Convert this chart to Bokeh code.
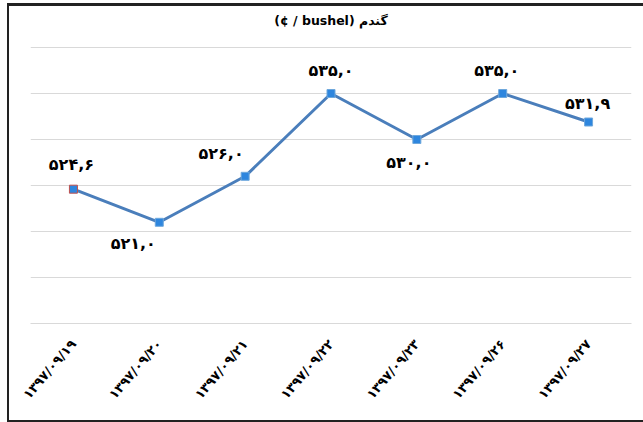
from bokeh.plotting import figure
from bokeh.models import ColumnDataSource, FactorRange, Range1d, FixedTicker
from bokeh.core.properties import value
from bokeh.embed import file_html
from bokeh.resources import INLINE

# ---- data ----
dates = ["۱۳۹۷/۰۹/۱۹", "۱۳۹۷/۰۹/۲۰", "۱۳۹۷/۰۹/۲۱", "۱۳۹۷/۰۹/۲۲",
         "۱۳۹۷/۰۹/۲۳", "۱۳۹۷/۰۹/۲۶", "۱۳۹۷/۰۹/۲۷"]
prices = [524.6, 521.0, 526.0, 535.0, 530.0, 535.0, 531.9]
price_labels = ["۵۲۴,۶", "۵۲۱,۰", "۵۲۶,۰", "۵۳۵,۰", "۵۳۰,۰", "۵۳۵,۰", "۵۳۱,۹"]
title_text = "(¢ / bushel) گندم"
y_ticks = [510, 515, 520, 525, 530, 535, 540]

# ---- label styling (offsets in screen pixels) ----
label_dx = [-2, -26, -24, 0, -8, -6, -1]
label_dy = [-25, 21, -23, -23, 23, -23, -19]

FONT = "DejaVu Sans"

# layout: grid area 276 px tall, 41 px of headroom above top gridline for title
GRID_PX = 276
HEAD_PX = 41
px_per_unit = GRID_PX / (y_ticks[-1] - y_ticks[0])
y_top = y_ticks[-1] + HEAD_PX / px_per_unit

src = ColumnDataSource(dict(x=dates, y=prices, lab=price_labels,
                            dx=label_dx, dy=label_dy,
                            mline=["#c0504d"] + ["#6fa8dc"] * 6))

xr = FactorRange(*dates, range_padding=0, factor_padding=0)
p = figure(width=636, height=419, x_range=xr,
           y_range=Range1d(y_ticks[0], y_top), output_backend="svg",
           toolbar_location=None, min_border_left=21, min_border_right=14,
           min_border_top=0, min_border_bottom=102)
p.styles = {"margin-left": "7px", "margin-top": "3px",
            "border-left": "2px solid #222", "border-top": "3px solid #222",
            "border-bottom": "2px solid #222"}

p.outline_line_color = None
p.background_fill_color = "white"
p.border_fill_color = "white"

p.yaxis.visible = False
p.ygrid.ticker = FixedTicker(ticks=y_ticks)
p.ygrid.grid_line_color = "#d9d9d9"
p.ygrid.grid_line_width = 1
p.xgrid.grid_line_color = None

p.xaxis.axis_line_color = "#d9d9d9"
p.xaxis.major_tick_line_color = None
p.xaxis.minor_tick_line_color = None
p.xaxis.major_label_orientation = 0.86
p.xaxis.major_label_text_font = FONT
p.xaxis.major_label_text_font_style = "bold"
p.xaxis.major_label_text_font_size = "13px"
p.xaxis.major_label_text_color = "#000000"
p.xaxis.major_label_standoff = 12

# chart title, centred over the plot area, 27 px above the top gridline
p.text(x=[dates[len(dates) // 2]], y=[y_ticks[-1]], text=[title_text],
       y_offset=-27, text_font=value(FONT), text_font_size="12.5px",
       text_font_style="bold", text_color="#000000",
       text_align="center", text_baseline="middle")

p.line("x", "y", source=src, line_color="#4a7ebb", line_width=3)
p.scatter("x", "y", source=src, marker="square", size=8,
          fill_color="#2e86de", line_color="mline", line_width=1)
p.text("x", "y", text="lab", source=src, x_offset="dx", y_offset="dy",
       text_font=value(FONT), text_font_style="bold", text_font_size="16px",
       text_color="#000000", text_align="center", text_baseline="middle")

open("out.html", "w").write(file_html(p, INLINE))
